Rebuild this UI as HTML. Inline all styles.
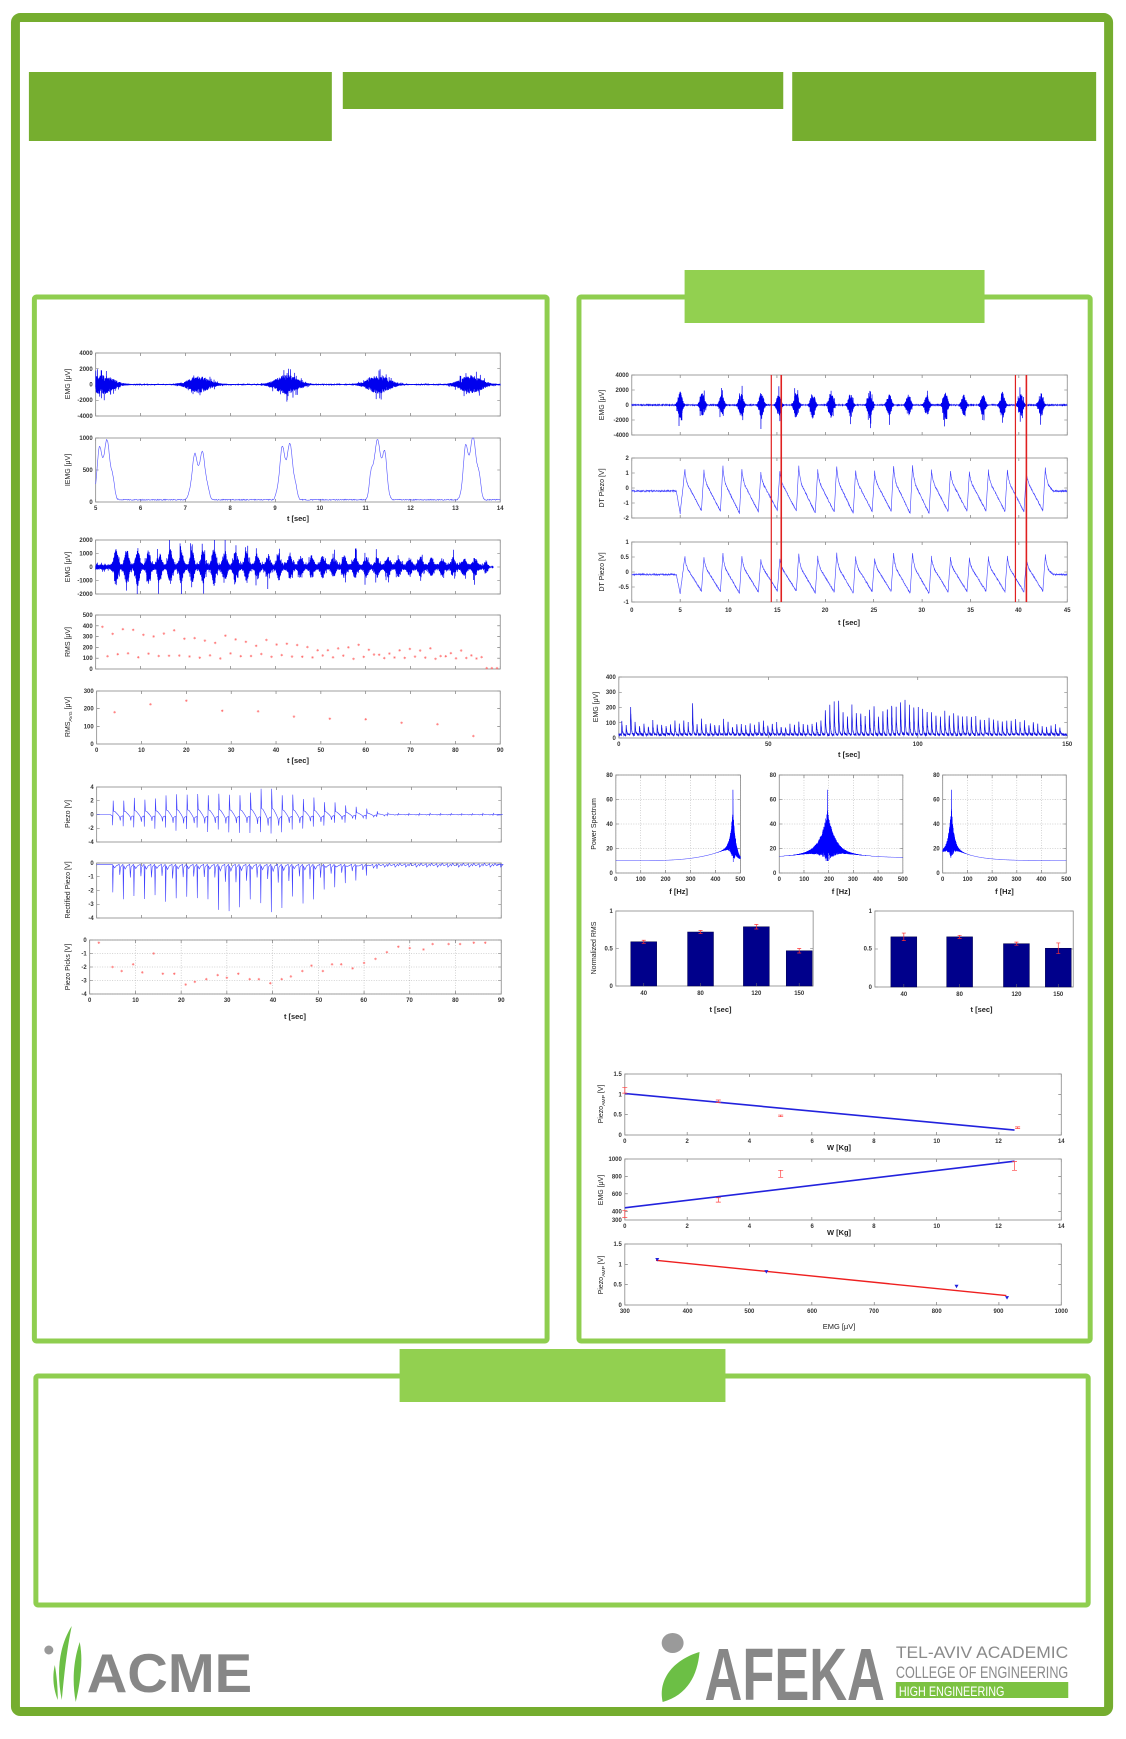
<!DOCTYPE html>
<html><head><meta charset="utf-8"><style>html,body{margin:0;padding:0;background:#fff}svg{display:block}</style></head><body>
<svg id="s" width="1126" height="1739" xmlns="http://www.w3.org/2000/svg" font-family="Liberation Sans, sans-serif">
<rect width="1126" height="1739" fill="#fff"/>
<g transform="scale(0.9965,1)">
<rect x="15.5" y="17.5" width="1097" height="1694" rx="5" fill="none" stroke="#75ad2f" stroke-width="9"/>
<rect x="29" y="72" width="304" height="69" fill="#76ae2f"/>
<rect x="344" y="72" width="442" height="37" fill="#76ae2f"/>
<rect x="795" y="72" width="305" height="69" fill="#76ae2f"/>
<rect x="34.5" y="297" width="514.5" height="1044" rx="2" fill="none" stroke="#8fce4f" stroke-width="5"/>
<rect x="581" y="297" width="513" height="1044" rx="2" fill="none" stroke="#8fce4f" stroke-width="5"/>
<rect x="687" y="270" width="301" height="53" fill="#92d050"/>
<rect x="36" y="1376" width="1056" height="229" rx="2" fill="none" stroke="#8fce4f" stroke-width="5"/>
<rect x="401" y="1349" width="327" height="53" fill="#92d050"/>

<!-- logos -->
<circle cx="49" cy="1650" r="4.5" fill="#999"/>
<path d="M72,1626 C60,1645 56,1670 62,1700 C64,1680 66,1655 72,1626Z M80,1642 C74,1660 72,1680 76,1702 C80,1685 84,1662 80,1642Z M55,1665 C52,1678 54,1690 58,1700 C58,1688 57,1676 55,1665Z" fill="#6cbf45"/>
<text x="87" y="1692" font-size="55" font-weight="bold" fill="#878787" textLength="166" lengthAdjust="spacingAndGlyphs">ACME</text>
<ellipse cx="675" cy="1643" rx="11" ry="10" fill="#9a9a9a"/>
<path d="M665,1702 C660,1680 675,1660 702,1652 C700,1675 690,1695 665,1702Z" fill="#6cbf45"/>
<text x="707" y="1700" font-size="74" font-weight="bold" fill="#878787" textLength="181" lengthAdjust="spacingAndGlyphs">AFEKA</text>
<text x="899" y="1658" font-size="17" fill="#8a8a8a" textLength="173" lengthAdjust="spacingAndGlyphs">TEL-AVIV  ACADEMIC</text>
<text x="899" y="1678" font-size="17" fill="#8a8a8a" textLength="173" lengthAdjust="spacingAndGlyphs">COLLEGE OF ENGINEERING</text>
<rect x="899" y="1682" width="173" height="16" fill="#7cc242"/>
<text x="902" y="1696" font-size="14" fill="#fff" textLength="106" lengthAdjust="spacingAndGlyphs">HIGH ENGINEERING</text>

<g id="plots"></g>

<g font-size="6" font-weight="bold" fill="#333" text-anchor="end">
<text x="93" y="355">4000</text><text x="93" y="371">2000</text><text x="93" y="386.5">0</text><text x="93" y="402">-2000</text><text x="93" y="418">-4000</text>
<text x="93" y="440">1000</text><text x="93" y="472">500</text><text x="93" y="504">0</text>
<text x="93" y="542">2000</text><text x="93" y="555.5">1000</text><text x="93" y="569">0</text><text x="93" y="582.5">-1000</text><text x="93" y="596">-2000</text>
<text x="93" y="617">500</text><text x="93" y="628">400</text><text x="93" y="638.6">300</text><text x="93" y="649.4">200</text><text x="93" y="660.2">100</text><text x="93" y="671">0</text>
<text x="94" y="693">300</text><text x="94" y="710.7">200</text><text x="94" y="728.3">100</text><text x="94" y="746">0</text>
<text x="94" y="789">4</text><text x="94" y="802.75">2</text><text x="94" y="816.5">0</text><text x="94" y="830.25">-2</text><text x="94" y="844">-4</text>
<text x="94" y="865">0</text><text x="94" y="878.75">-1</text><text x="94" y="892.5">-2</text><text x="94" y="906.25">-3</text><text x="94" y="920">-4</text>
<text x="87" y="942">0</text><text x="87" y="955.5">-1</text><text x="87" y="969">-2</text><text x="87" y="982.5">-3</text><text x="87" y="996">-4</text>
<text x="631" y="377">4000</text><text x="631" y="392">2000</text><text x="631" y="407">0</text><text x="631" y="422">-2000</text><text x="631" y="437">-4000</text>
<text x="631" y="460">2</text><text x="631" y="475">1</text><text x="631" y="490">0</text><text x="631" y="505">-1</text><text x="631" y="520">-2</text>
<text x="631" y="544">1</text><text x="631" y="559">0.5</text><text x="631" y="574">0</text><text x="631" y="589">-0.5</text><text x="631" y="604">-1</text>
<text x="618" y="679">400</text><text x="618" y="694">300</text><text x="618" y="709.5">200</text><text x="618" y="725">100</text><text x="618" y="740">0</text>
<text x="615" y="777">80</text><text x="615" y="801.5">60</text><text x="615" y="826">40</text><text x="615" y="850.5">20</text><text x="615" y="875">0</text>
<text x="779" y="777">80</text><text x="779" y="801.5">60</text><text x="779" y="826">40</text><text x="779" y="850.5">20</text><text x="779" y="875">0</text>
<text x="943" y="777">80</text><text x="943" y="801.5">60</text><text x="943" y="826">40</text><text x="943" y="850.5">20</text><text x="943" y="875">0</text>
<text x="615" y="913">1</text><text x="615" y="950.5">0.5</text><text x="615" y="988">0</text>
<text x="875" y="913">1</text><text x="875" y="950.5">0.5</text><text x="875" y="989">0</text>
<text x="624" y="1076">1.5</text><text x="624" y="1096.3">1</text><text x="624" y="1116.7">0.5</text><text x="624" y="1137">0</text>
<text x="624" y="1161">1000</text><text x="624" y="1178.4">800</text><text x="624" y="1195.9">600</text><text x="624" y="1213.3">400</text><text x="624" y="1222">300</text>
<text x="624" y="1246">1.5</text><text x="624" y="1266.3">1</text><text x="624" y="1286.7">0.5</text><text x="624" y="1307">0</text>
</g>
<g font-size="6" font-weight="bold" fill="#333" text-anchor="middle">
<text x="96" y="510">5</text><text x="141" y="510">6</text><text x="186" y="510">7</text><text x="231" y="510">8</text><text x="276" y="510">9</text><text x="321" y="510">10</text><text x="367" y="510">11</text><text x="412" y="510">12</text><text x="457" y="510">13</text><text x="502" y="510">14</text>
<text x="97" y="752">0</text><text x="142" y="752">10</text><text x="187" y="752">20</text><text x="232" y="752">30</text><text x="277" y="752">40</text><text x="322" y="752">50</text><text x="367" y="752">60</text><text x="412" y="752">70</text><text x="457" y="752">80</text><text x="502" y="752">90</text>
<text x="90" y="1002">0</text><text x="136" y="1002">10</text><text x="182" y="1002">20</text><text x="228" y="1002">30</text><text x="274" y="1002">40</text><text x="320" y="1002">50</text><text x="365" y="1002">60</text><text x="411" y="1002">70</text><text x="457" y="1002">80</text><text x="503" y="1002">90</text>
<text x="634" y="612">0</text><text x="682.6" y="612">5</text><text x="731" y="612">10</text><text x="780" y="612">15</text><text x="828" y="612">20</text><text x="877" y="612">25</text><text x="925" y="612">30</text><text x="974" y="612">35</text><text x="1022" y="612">40</text><text x="1071" y="612">45</text>
<text x="621" y="746">0</text><text x="771" y="746">50</text><text x="921" y="746">100</text><text x="1071" y="746">150</text>
<text x="618" y="881">0</text><text x="643" y="881">100</text><text x="668" y="881">200</text><text x="693" y="881">300</text><text x="718" y="881">400</text><text x="743" y="881">500</text>
<text x="782" y="881">0</text><text x="807" y="881">100</text><text x="832" y="881">200</text><text x="856" y="881">300</text><text x="881" y="881">400</text><text x="906" y="881">500</text>
<text x="946" y="881">0</text><text x="971" y="881">100</text><text x="996" y="881">200</text><text x="1020" y="881">300</text><text x="1045" y="881">400</text><text x="1070" y="881">500</text>
<text x="646" y="995">40</text><text x="703" y="995">80</text><text x="759" y="995">120</text><text x="802" y="995">150</text>
<text x="907" y="996">40</text><text x="963" y="996">80</text><text x="1020" y="996">120</text><text x="1062" y="996">150</text>
<text x="627" y="1143">0</text><text x="689.6" y="1143">2</text><text x="752" y="1143">4</text><text x="815" y="1143">6</text><text x="877" y="1143">8</text><text x="940" y="1143">10</text><text x="1002" y="1143">12</text><text x="1065" y="1143">14</text>
<text x="627" y="1228">0</text><text x="689.6" y="1228">2</text><text x="752" y="1228">4</text><text x="815" y="1228">6</text><text x="877" y="1228">8</text><text x="940" y="1228">10</text><text x="1002" y="1228">12</text><text x="1065" y="1228">14</text>
<text x="627" y="1313">300</text><text x="690" y="1313">400</text><text x="752" y="1313">500</text><text x="815" y="1313">600</text><text x="877" y="1313">700</text><text x="940" y="1313">800</text><text x="1002" y="1313">900</text><text x="1065" y="1313">1000</text>
</g>
<g font-size="7.5" font-weight="bold" fill="#222" text-anchor="middle">
<text x="299" y="521">t [sec]</text><text x="299" y="763">t [sec]</text><text x="296" y="1019">t [sec]</text>
<text x="852" y="625">t [sec]</text><text x="852" y="757">t [sec]</text>
<text x="681" y="894">f [Hz]</text><text x="844" y="894">f [Hz]</text><text x="1008" y="894">f [Hz]</text>
<text x="723" y="1012">t [sec]</text><text x="985" y="1012">t [sec]</text>
<text x="842" y="1150">W [Kg]</text><text x="842" y="1235">W [Kg]</text><text x="842" y="1329" font-weight="normal">EMG [μV]</text>
</g>
<g font-size="7" fill="#222" text-anchor="middle">
<text transform="translate(70,384) rotate(-90)">EMG [μV]</text>
<text transform="translate(70,470) rotate(-90)">IEMG [μV]</text>
<text transform="translate(70,567) rotate(-90)">EMG [μV]</text>
<text transform="translate(70,642) rotate(-90)">RMS [μV]</text>
<text transform="translate(70,717) rotate(-90)">RMS<tspan font-size="5" dy="2">AVG</tspan><tspan dy="-2"> [μV]</tspan></text>
<text transform="translate(70,814) rotate(-90)">Piezo [V]</text>
<text transform="translate(70,890) rotate(-90)">Rectified  Piezo [V]</text>
<text transform="translate(70,967) rotate(-90)">Piezo Picks [V]</text>
<text transform="translate(606,405) rotate(-90)">EMG [μV]</text>
<text transform="translate(606,488) rotate(-90)">DT Piezo [V]</text>
<text transform="translate(606,572) rotate(-90)">DT Piezo [V]</text>
<text transform="translate(600,707) rotate(-90)">EMG [μV]</text>
<text transform="translate(598,824) rotate(-90)">Power Spectrum</text>
<text transform="translate(598,948) rotate(-90)">Normalized RMS</text>
<text transform="translate(605,1104) rotate(-90)">Piezo<tspan font-size="5" dy="2">AMP</tspan><tspan dy="-2"> [V]</tspan></text>
<text transform="translate(605,1190) rotate(-90)">EMG [μV]</text>
<text transform="translate(605,1275) rotate(-90)">Piezo<tspan font-size="5" dy="2">AMP</tspan><tspan dy="-2"> [V]</tspan></text>
</g>
</g>
</svg>
<script>
const NS='http://www.w3.org/2000/svg';const G=document.getElementById('plots');
function el(n,a){const e=document.createElementNS(NS,n);for(const k in a)e.setAttribute(k,a[k]);G.appendChild(e);return e;}
let sd=12345;function r(){sd=(sd*16807)%2147483647;return sd/2147483647;}
function nz(){return r()*2-1;}
function rng(a,b,n){const t=[];for(let v=a;v<=b+1e-9;v+=n)t.push(+v.toFixed(6));return t;}
function A(x0,y0,x1,y1,a,b,c,d,xt,yt,grid){
 const o={X:t=>x0+(t-a)/(b-a)*(x1-x0),Y:v=>{let y=y1-(v-c)/(d-c)*(y1-y0);return Math.max(y0,Math.min(y1,y));}};
 let p='';
 (xt||[]).forEach(t=>{const x=o.X(t);p+=`M${x},${y1}v-3M${x},${y0}v3`;if(grid)el('line',{x1:x,x2:x,y1:y0,y2:y1,stroke:'#aaa','stroke-dasharray':'1,1.5','stroke-width':0.5});});
 (yt||[]).forEach(v=>{const y=o.Y(v);p+=`M${x0},${y}h3M${x1},${y}h-3`;if(grid)el('line',{x1:x0,x2:x1,y1:y,y2:y,stroke:'#aaa','stroke-dasharray':'1,1.5','stroke-width':0.5});});
 el('path',{d:p,stroke:'#666','stroke-width':0.6,fill:'none'});
 el('rect',{x:x0,y:y0,width:x1-x0,height:y1-y0,fill:'none',stroke:'#888','stroke-width':0.8});
 return o;}
function L(o,pts,col,w,op){el('path',{d:'M'+pts.map(p=>o.X(p[0]).toFixed(1)+','+o.Y(p[1]).toFixed(1)).join('L'),fill:'none',stroke:col,'stroke-width':w||0.6,opacity:op||1});}
function stars(o,pts,col,s){let d='';pts.forEach(p=>{const x=o.X(p[0]),y=o.Y(p[1]);d+=`M${x-s},${y}h${2*s}M${x},${y-s}v${2*s}M${x-s*.7},${y-s*.7}l${1.4*s},${1.4*s}M${x-s*.7},${y+s*.7}l${1.4*s},${-1.4*s}`});el('path',{d,stroke:col,'stroke-width':0.5,fill:'none'});}
function burst(cs,amps,s,base){return t=>{let v=base;cs.forEach((c,i)=>{v+=amps[i]*Math.exp(-Math.pow((t-c)/s,2)/2)});return v;};}
function emg(o,a,b,N,env,col,w){const pts=[];for(let i=0;i<=N;i++){const t=a+(b-a)*i/N;pts.push([t,env(t)*(i%2?1:-1)*(0.3+0.7*r())*(r()<0.08?1.8:1)]);}L(o,pts,col||'#0000ee',w||0.7);}

let o=A(96,353,502,416,5,14,-4000,4000,rng(5,14,1),[-4000,-2000,0,2000,4000]);
emg(o,5,14,3600,burst([5.15,7.3,9.25,11.3,13.35],[1200,1000,1200,1100,1100],0.22,60));
o=A(96,438,502,502,5,14,0,1000,rng(5,14,1),[0,500,1000]);
{const cs=[5.2,7.3,9.25,11.3,13.35],am=[800,650,760,800,850];let p=[];for(let t=5;t<=14;t+=0.01){let v=35+8*nz();cs.forEach((c,i)=>{v+=am[i]*Math.exp(-Math.pow((t-c)/0.2,4))*(1+0.18*Math.sin(t*35+i))});p.push([t,v]);}L(o,p,'#5050ff',0.6);}
o=A(96,540,502,594,0,90,-2000,2000,rng(0,90,10),[-2000,-1000,0,1000,2000]);
{const cs=[],am=[];for(let i=0;i<35;i++){cs.push(4.5+i*2.42);am.push(i<13?1000+300*r():Math.max(300,750-15*(i-13)+100*r()));}
 const e=burst(cs,am,0.4,0);emg(o,0,88.5,4000,t=>e(t)+(t<86?200:20));}
o=A(96,615,502,669,0,90,0,500,rng(0,90,10),[0,100,200,300,400,500]);
{let p=[];for(let i=0;i<78;i++){const t=1.5+i*1.14;let v;if(t>86)v=8;else if(i%2==0)v=Math.max(110,370-3.0*t+50*nz());else v=Math.max(90,130-0.3*t+25*nz());p.push([t,v]);}stars(o,p,'#ff7070',1.3);}
o=A(97,691,502,744,0,90,0,300,rng(0,90,10),[0,100,200,300]);
stars(o,[[4,180],[12,225],[20,245],[28,188],[36,185],[44,155],[52,143],[60,140],[68,120],[76,112],[84,45]],'#ff7070',1.3);
function amp(t){return t<40?2.2+t/40*1.2:Math.max(0.15,3.4-(t-40)*0.13);}
o=A(97,787,503,842,0,90,-4,4,rng(0,90,10),[-4,-2,0,2,4]);
{let p=[[0,0],[3,0]];for(let i=0;i<37;i++){const t0=3.5+i*2.35;const a=amp(t0)*(0.85+0.3*r()),b=amp(t0)*(0.8+0.3*r()),f=a/3;
 p.push([t0,-0.3*f],[t0+0.05,-b*0.8],[t0+0.12,0],[t0+0.17,a],[t0+0.3,0.7*f],[t0+0.6,0.6*f],[t0+1.2,0],[t0+1.6,-0.5*f],[t0+1.75,-1.3*f],[t0+1.85,-0.5*f],[t0+2.2,-0.3*f]);}
 p.push([89,-0.1]);L(o,p,'#4040ff',0.6);}
o=A(97,863,503,918,0,90,-4,0,rng(0,90,10),[-4,-3,-2,-1,0]);
{let p=[[0,-0.1],[3,-0.1]];for(let i=0;i<37;i++){const t0=3.5+i*2.35;const b=amp(t0)*(0.8+0.35*r()),f=b/3;
 p.push([t0,-0.1],[t0+0.1,-b],[t0+0.2,-0.2],[t0+0.5,-0.5*f],[t0+0.9,-0.2],[t0+1.5,-0.1],[t0+1.65,-1.2*f],[t0+1.8,-0.3],[t0+2.3,-0.1]);}
 p.push([89,-0.1]);L(o,p,'#4040ff',0.6);}
o=A(90,940,503,994,0,90,-4,0,rng(0,90,10),[-4,-3,-2,-1,0],true);
stars(o,[[2,-0.2],[5,-2],[7,-2.3],[9.5,-1.8],[11.5,-2.4],[14,-1],[16,-2.5],[18.5,-2.5],[21,-3.3],[23,-3.1],[25.5,-2.9],[28,-2.6],[30,-2.8],[32.5,-2.5],[35,-2.9],[37,-2.9],[39.5,-3.2],[42,-2.9],[44,-2.7],[46.5,-2.3],[48.5,-1.9],[51,-2.3],[53,-1.8],[55,-1.8],[57.5,-2.1],[60,-1.7],[62.5,-1.4],[65,-0.9],[67.5,-0.5],[70,-0.6],[73,-0.7],[75,-0.3],[78.5,-0.3],[81,-0.3],[84,-0.2],[86.5,-0.2]],'#ff7070',1.3);

o=A(634,375,1071,435,0,45,-4000,4000,rng(0,45,5),[-4000,-2000,0,2000,4000]);
{const cs=[5,7.3,9.3,11.3,13.4,15.2,17,18.7,20.6,22.6,24.6,26.6,28.6,30.5,32.4,34.3,36.3,38.3,40.2,42.3];const am=cs.map(()=>1300+600*r());emg(o,0,45,4000,burst(cs,am,0.2,50));}
const pk=[];const pa=[];for(let i=0;i<20;i++){pk.push(5.5+i*1.96);pa.push(0.85+0.45*r());}
function dt(t){if(t<4.6)return -0.2;if(t<5.0)return -0.2-1.5*(t-4.6)/0.4;if(t<5.5)return -1.7+3.0*(t-5)/0.5;
 let i=0;while(i<19&&t>=pk[i+1])i++;const u=t-pk[i];const a=pa[i];
 if(u<0.3)return a*1.2-(a*1.2-0.2)*Math.pow(u/0.3,0.6);
 if(i==19){return u<0.8?0.2-0.4*(u-0.3)/0.5:-0.2;}
 if(u<1.7)return 0.2-1.6*(u-0.3)/1.4*(0.8+0.3*pa[i]);
 const lo=0.2-1.6*(0.8+0.3*pa[i]);return lo+(pa[i+1]*1.2-lo)*(u-1.7)/0.26;}
o=A(634,458,1071,518,0,45,-2,2,rng(0,45,5),[-2,-1,0,1,2]);
{let p=[];for(let t=0;t<=45;t+=0.02)p.push([t,dt(t)+0.05*nz()]);L(o,p,'#4040ff',0.6);}
o=A(634,542,1071,602,0,45,-1,1,rng(0,45,5),[-1,-0.5,0,0.5,1]);
{let p=[];for(let t=0;t<=45;t+=0.02)p.push([t,0.42*dt(t)+0.025*nz()]);L(o,p,'#4040ff',0.6);}
[774,784,1019,1030].forEach((x,i)=>el('line',{x1:x,x2:x,y1:375,y2:602,stroke:'#e02020','stroke-width':i%2?1.6:1.2}));
o=A(621,677,1071,738,0,150,0,400,rng(0,150,50),[0,100,200,300,400]);
{let p=[];const sp=[];for(let k=0;k<100;k++){const t=1+k*1.48;let a;if(t<68)a=60+50*r();else if(t<100)a=130+110*r();else a=Math.max(40,150-(t-100)*2.2+30*r());if(k==2||k==16)a=220;sp.push([t,a]);}
 for(let t=0;t<=150;t+=0.04){let v=22+8*nz();sp.forEach(s=>{const u=t-s[0];if(u>-0.12&&u<0)v+=s[1]*(1+u/0.12)*0.9;else if(u>=0&&u<1.2)v+=s[1]*Math.exp(-u/0.18)*(0.9+0.1*nz());});p.push([t,v]);}L(o,p,'#1010e0',0.7);}
function ps(x0,x1,c,B,wd){const o=A(x0,775,x1,873,0,500,0,80,rng(0,500,100),[0,20,40,60,80],true);
 let p=[];for(let f=0;f<=500;f+=0.3){const g=Math.exp(-Math.abs(f-c)/wd);const b=B(f);const up=b+32*g*(0.75+0.25*r()),lo=b-12*g*r();p.push([f,(p.length%2)?up:lo]);}
 L(o,p,'#0000ff',0.5);L(o,[[c,20],[c,68],[c+1,30]],'#0000ff',0.6);}
ps(618,743,470,f=>f<=470?10+10*Math.pow(f/450,4):Math.max(12,20-(f-470)*0.3),10);
ps(782,906,195,f=>12+8*Math.exp(-Math.abs(f-195)/120),28);
ps(946,1070,35,f=>10+12*Math.exp(-Math.abs(f-35)/80),11);
function bars(x0,x1,y1,cs,h,e){const o=A(x0,911,x1,y1,0,1,0,1,[],[0,0.5,1]);
 cs.forEach((c,i)=>{const y=o.Y(h[i]);el('rect',{x:c-13,y:y,width:26,height:y1-y,fill:'#00008b',stroke:'#00004a','stroke-width':0.5});
 el('path',{d:`M${c},${o.Y(h[i]+e[i])}V${o.Y(h[i]-e[i])}M${c-2},${o.Y(h[i]+e[i])}h4M${c-2},${o.Y(h[i]-e[i])}h4`,stroke:'#ff3030','stroke-width':0.7,fill:'none'});
 el('line',{x1:c,x2:c,y1:y1,y2:y1-3,stroke:'#666','stroke-width':0.6});});}
bars(618,816,986,[646,703,759,802],[0.59,0.72,0.79,0.47],[0.02,0.02,0.03,0.03]);
bars(878,1077,987,[907,963,1020,1062],[0.66,0.66,0.57,0.51],[0.05,0.02,0.02,0.07]);
function eb(o,pts){let d='';pts.forEach(p=>{const x=o.X(p[0]);d+=`M${x},${o.Y(p[1]+p[2])}V${o.Y(p[1]-p[2])}M${x-2.5},${o.Y(p[1]+p[2])}h5M${x-2.5},${o.Y(p[1]-p[2])}h5`});el('path',{d,stroke:'#ff4040','stroke-width':0.7,fill:'none'});}
o=A(627,1074,1065,1135,0,14,0,1.5,rng(0,14,2),[0,0.5,1,1.5]);
L(o,[[0,1.02],[12.5,0.12]],'#2222dd',1.6);eb(o,[[0,1.1,0.07],[3,0.83,0.03],[5,0.47,0.02],[12.6,0.18,0.02]]);
o=A(627,1159,1065,1220,0,14,300,1000,rng(0,14,2),[400,600,800,1000]);
L(o,[[0,440],[12.5,975]],'#2222dd',1.6);eb(o,[[0,370,40],[3,530,25],[5,830,40],[12.5,920,50]]);
o=A(627,1244,1065,1305,300,1000,0,1.5,rng(300,1000,100),[0,0.5,1,1.5]);
L(o,[[350,1.1],[912,0.23]],'#ee2020',1.4);
{let d='';[[352,1.12],[527,0.82],[832,0.46],[913,0.18]].forEach(p=>{const x=o.X(p[0]),y=o.Y(p[1]);d+=`M${x-2},${y-1.5}h4l-2,3.5z`});el('path',{d,fill:'#2020dd'});}
</script>
</body></html>
